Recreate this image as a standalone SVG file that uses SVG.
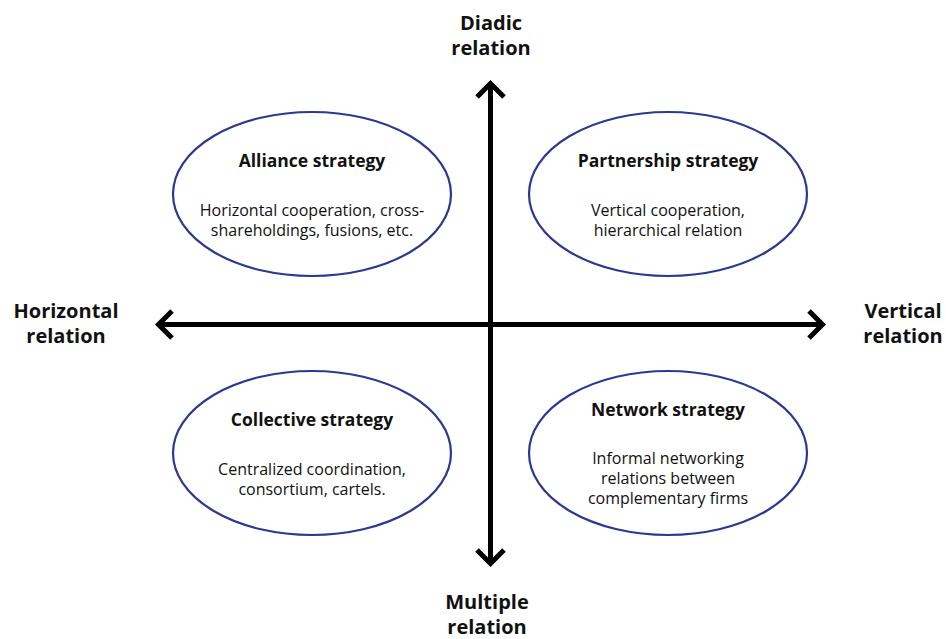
<svg xmlns="http://www.w3.org/2000/svg" width="946" height="639" viewBox="0 0 946 639">
<style>
.ell{fill:#fff;stroke:#2b3990;stroke-width:2.2}
.ax{stroke:#000;stroke-width:5;fill:none;stroke-linecap:butt}
.head{stroke:#000;stroke-width:5;fill:none;stroke-linejoin:miter}
.t{font-family:"Open Sans","Liberation Sans",sans-serif;font-weight:bold;font-size:17.5px;fill:#111;text-anchor:middle}
.b{font-family:"Open Sans","Liberation Sans",sans-serif;font-size:16px;fill:#111;text-anchor:middle}
.a{font-family:"Open Sans","Liberation Sans",sans-serif;font-weight:bold;font-size:20px;fill:#111;text-anchor:middle}
</style>
<rect width="946" height="639" fill="#fff"/>
<g id="connectors">
<line class="ax" x1="490.5" y1="86" x2="490.5" y2="563"/>
<line class="ax" x1="159" y1="324.5" x2="823" y2="324.5"/>
<polyline class="head" points="477,97 490.5,83.5 504,97"/>
<polyline class="head" points="477,550 490.5,563.5 504,550"/>
<polyline class="head" points="172,311 158.5,324.5 172,338"/>
<polyline class="head" points="809,311 822.5,324.5 809,338"/>
</g>
<g id="label-diadic"><text class="a" x="491" y="30">Diadic</text><text class="a" x="491" y="55">relation</text></g>
<g id="label-multiple"><text class="a" x="487" y="609">Multiple</text><text class="a" x="487" y="634">relation</text></g>
<g id="label-horizontal"><text class="a" x="66" y="318">Horizontal</text><text class="a" x="66" y="343">relation</text></g>
<g id="label-vertical"><text class="a" x="903" y="318">Vertical</text><text class="a" x="903" y="343">relation</text></g>
<g id="alliance">
<ellipse class="ell" cx="312" cy="194" rx="139" ry="82"/>
<text class="t" x="312" y="167">Alliance strategy</text>
<text class="b" x="312" y="216">Horizontal cooperation, cross-</text>
<text class="b" x="312" y="236">shareholdings, fusions, etc.</text>
</g>
<g id="partnership">
<ellipse class="ell" cx="668" cy="194" rx="139" ry="82"/>
<text class="t" x="668" y="167">Partnership strategy</text>
<text class="b" x="668" y="216">Vertical cooperation,</text>
<text class="b" x="668" y="236">hierarchical relation</text>
</g>
<g id="collective">
<ellipse class="ell" cx="312" cy="453" rx="139" ry="82"/>
<text class="t" x="312" y="426">Collective strategy</text>
<text class="b" x="312" y="475">Centralized coordination,</text>
<text class="b" x="312" y="495">consortium, cartels.</text>
</g>
<g id="network">
<ellipse class="ell" cx="668" cy="453" rx="139" ry="82"/>
<text class="t" x="668" y="416">Network strategy</text>
<text class="b" x="668" y="464">Informal networking</text>
<text class="b" x="668" y="484">relations between</text>
<text class="b" x="668" y="504">complementary firms</text>
</g>
</svg>
